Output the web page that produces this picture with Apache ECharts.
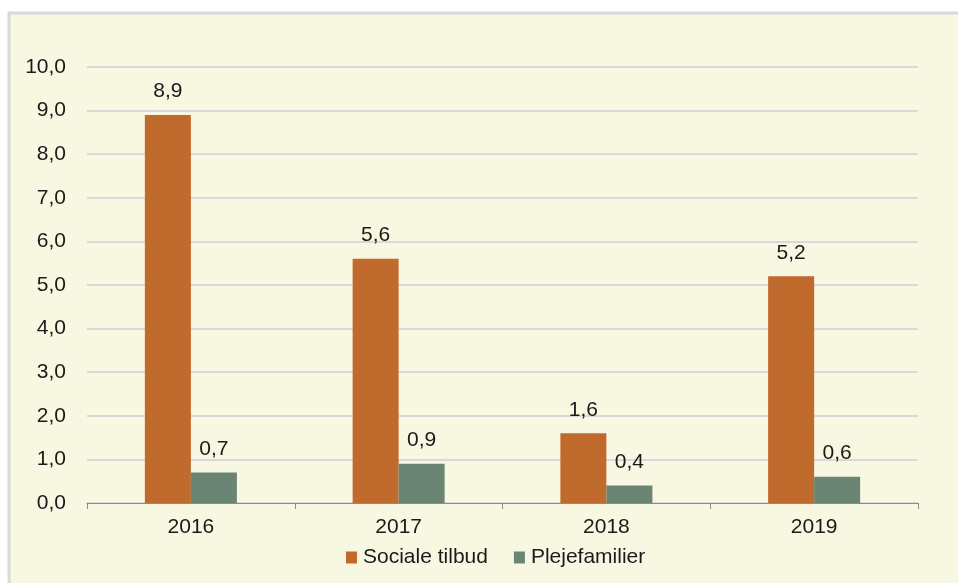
<!DOCTYPE html>
<html>
<head>
<meta charset="utf-8">
<script src="https://cdn.jsdelivr.net/npm/echarts@6/dist/echarts.min.js"></script>
<style>
  html, body { margin: 0; padding: 0; background: #fff; }
  #chart { width: 958px; height: 583px; }
</style>
</head>
<body>
<div id="chart"></div>
<script>
var years = ["2016", "2017", "2018", "2019"];
var socialeTilbud = [8.9, 5.6, 1.6, 5.2];
var plejefamilier = [0.7, 0.9, 0.4, 0.6];

function komma(v) {
    return Number(v).toFixed(1).replace(".", ",");
}

var chart = echarts.init(document.getElementById("chart"));

var txt = { color: "#1a1a1a", fontFamily: "Liberation Sans, Arial, sans-serif", fontSize: 21 };

chart.setOption({
    animation: false,
    graphic: [ {
        type: "rect",
        z: -10,
        shape: { x: 9, y: 13, width: 960, height: 580 },
        style: { fill: "#f8f7e1", stroke: "#d9d9d9", lineWidth: 3 }
    } ],
    grid: { left: 87, right: 40, top: 67, bottom: 80 },
    legend: {
        left: 346,
        top: 547,
        padding: 0,
        itemWidth: 11,
        itemHeight: 12,
        itemGap: 26,
        icon: "rect",
        textStyle: Object.assign({ padding: [0, 0, 0, 1] }, txt),
        data: [ "Sociale tilbud", "Plejefamilier" ]
    },
    xAxis: {
        type: "category",
        data: years,
        axisLine: { lineStyle: { color: "#8c8c8c", width: 1 } },
        axisTick: { show: true, length: 6, lineStyle: { color: "#8c8c8c" } },
        axisLabel: Object.assign({ margin: 14 }, txt)
    },
    yAxis: {
        type: "value",
        min: 0,
        max: 10,
        interval: 1,
        axisLine: { show: false },
        axisTick: { show: false },
        splitLine: { lineStyle: { color: "#d9d9d9", width: 2 } },
        axisLabel: Object.assign({ margin: 21, formatter: komma }, txt)
    },
    series: [ {
        name: "Sociale tilbud",
        type: "bar",
        data: socialeTilbud,
        barWidth: 46,
        barGap: "0%",
        itemStyle: { color: "#c06a2e" },
        label: Object.assign({ show: true, position: "top", distance: 13, formatter: function(p) { return komma(p.value); } }, txt)
    }, {
        name: "Plejefamilier",
        type: "bar",
        data: plejefamilier,
        barWidth: 46,
        barGap: "0%",
        itemStyle: { color: "#6b8575" },
        label: Object.assign({ show: true, position: "top", distance: 13, formatter: function(p) { return komma(p.value); } }, txt)
    } ]
});
</script>
</body>
</html>
